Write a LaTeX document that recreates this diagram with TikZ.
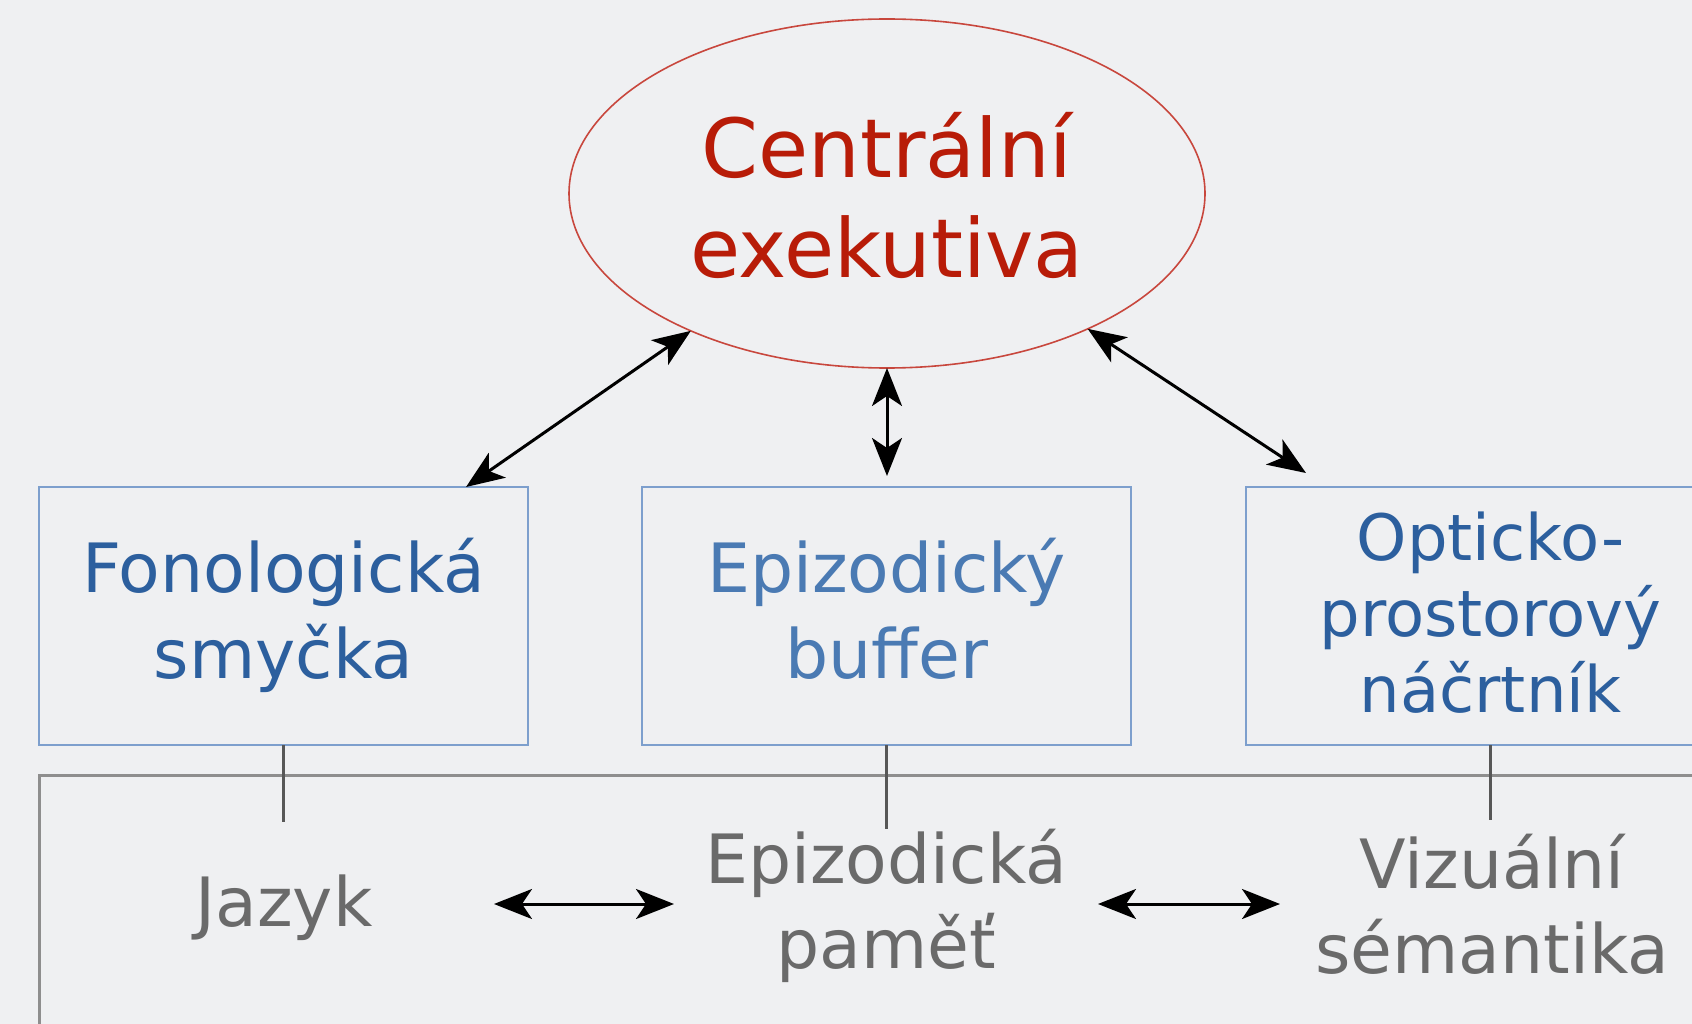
\documentclass[tikz,border=0pt]{standalone}
\usepackage{fontspec}
\setmainfont{DejaVu Sans}
\usetikzlibrary{arrows.meta,shapes.geometric,calc}
\definecolor{bgc}{HTML}{EFF0F2}
\definecolor{ellred}{HTML}{C8473D}
\definecolor{txtred}{HTML}{B81C08}
\definecolor{boxblue}{HTML}{7D9FCD}
\definecolor{txtblue}{HTML}{2C5F9E}
\definecolor{txtblue2}{HTML}{4A7AB3}
\definecolor{graytxt}{HTML}{6A6A6A}
\definecolor{rectgray}{HTML}{8E8E8E}
\definecolor{vlinegray}{HTML}{575757}
\begin{document}
\begin{tikzpicture}[x=1pt,y=-1pt,
  >={Stealth[length=38pt,width=30pt,inset=10pt]},
  ce/.style={ellipse, draw=ellred, line width=1.6pt, minimum width=636pt, minimum height=349pt,
    inner sep=0pt, outer sep=0pt, text=txtred, font=\fontsize{81.5}{100}\selectfont,
    text height=0pt, text depth=31pt},
  sbox/.style={rectangle, draw=boxblue, line width=2.8pt, minimum width=489pt, minimum height=258pt,
    inner sep=0pt, outer sep=0pt, text=txtblue, font=\fontsize{68}{86}\selectfont,
    text height=0pt, text depth=48pt},
  btxt/.style={inner sep=0pt, anchor=base, text=graytxt, font=\fontsize{68}{85}\selectfont},
  arr/.style={<->, line width=3pt, black},
  vline/.style={line width=2.8pt, vlinegray},
  outerrect/.style={line width=3pt, rectgray}
]
\useasboundingbox (0,0) rectangle (1692,1024);
\clip (0,0) rectangle (1692,1024);
\fill[bgc] (0,0) rectangle (1692,1024);

% bottom long-term memory frame
\draw[outerrect] (39,1040) -- (39,775) -- (1710,775);

% central executive
\node[ce] (ce) at (887,193.5) {\begin{tabular}[t]{@{}c@{}}Centrální\\exekutiva\end{tabular}};

% subsystems
\node[sbox] (box1) at (283.5,616) {\begin{tabular}[t]{@{}c@{}}Fonologická\\smyčka\end{tabular}};
\node[sbox, text=txtblue2] (box2) at (886.5,616) {\begin{tabular}[t]{@{}c@{}}Epizodický\\buffer\end{tabular}};
\node[sbox, font=\fontsize{64}{76}\selectfont, text depth=112pt] (box3) at (1490.5,616)
  {\begin{tabular}[t]{@{}c@{}}Opticko-\\prostorový\\náčrtník\end{tabular}};

% long-term texts
\node[btxt] (jaz) at (284,926) {\begin{tabular}[t]{@{}c@{}}Jazyk\end{tabular}};
\node[btxt] (epam) at (886,883) {\begin{tabular}[t]{@{}c@{}}Epizodická\\paměť\end{tabular}};
\node[btxt] (vis) at (1492,888) {\begin{tabular}[t]{@{}c@{}}Vizuální\\sémantika\end{tabular}};

% vertical links
\draw[vline] (box1.south) -- ++(0,77);
\draw[vline] (box2.south) -- ++(0,84);
\draw[vline] (box3.south) -- ++(0,75);

% arrows to central executive
\draw[arr] (ce.215) -- ($(box1.north east)+(-62,0)$);
\draw[arr] (ce.south) -- ($(box2.north)+(0.5,-11)$);
\draw[arr] (ce.326) -- ($(box3.north west)+(60,-14)$);

% bottom arrows
\coordinate (la) at (494,904);
\coordinate (lb) at (674,904);
\coordinate (ra) at (1098,904);
\coordinate (rb) at (1280,904);
\draw[arr] (la) -- (lb);
\draw[arr] (ra) -- (rb);
\end{tikzpicture}
\end{document}
